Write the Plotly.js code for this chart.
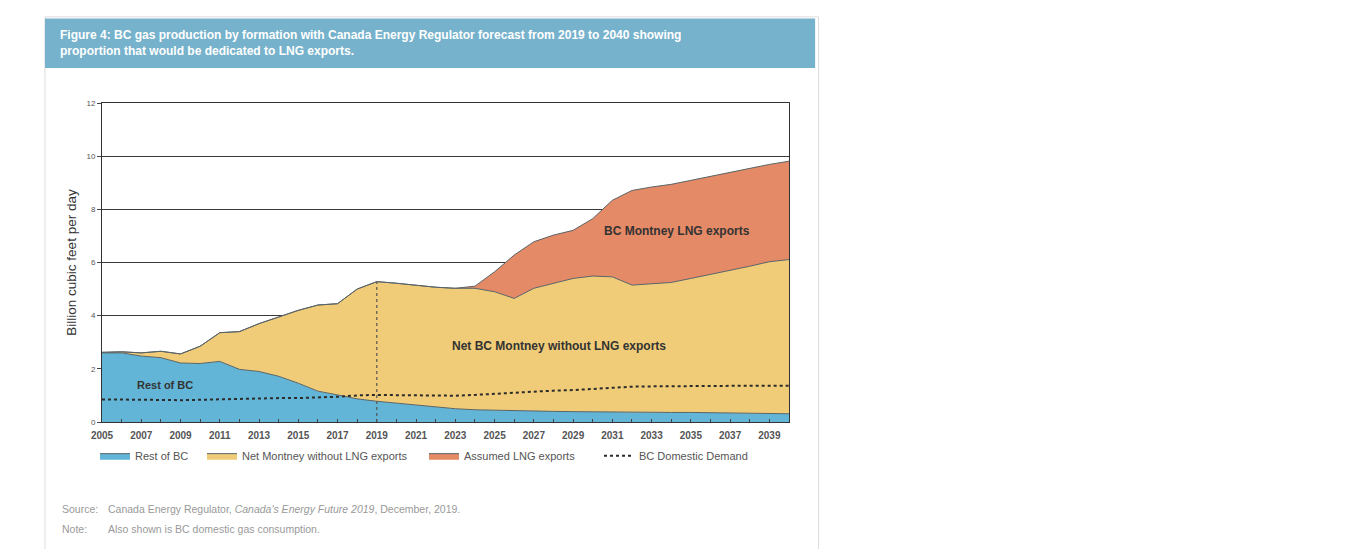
<!DOCTYPE html>
<html>
<head>
<meta charset="utf-8">
<script src="https://cdn.plot.ly/plotly-3.0.1.min.js"></script>
<style>
html,body{margin:0;padding:0;background:#fff;}
#chart{width:1369px;height:549px;}
</style>
</head>
<body>
<div id="chart"></div>
<script>
// ---- data (billion cubic feet per day) ----
const years = [2005,2006,2007,2008,2009,2010,2011,2012,2013,2014,2015,2016,2017,2018,2019,2020,2021,2022,2023,2024,2025,2026,2027,2028,2029,2030,2031,2032,2033,2034,2035,2036,2037,2038,2039,2040];
const restOfBC = [2.60,2.60,2.48,2.42,2.22,2.20,2.28,1.98,1.90,1.72,1.46,1.16,1.02,0.87,0.78,0.71,0.63,0.56,0.50,0.46,0.44,0.42,0.41,0.40,0.39,0.38,0.38,0.37,0.37,0.36,0.36,0.35,0.34,0.33,0.32,0.31];
const netMontney = [0.02,0.04,0.12,0.24,0.34,0.65,1.08,1.42,1.80,2.23,2.74,3.24,3.43,4.13,4.50,4.51,4.52,4.51,4.53,4.57,4.46,4.23,4.62,4.81,5.01,5.11,5.08,4.78,4.82,4.89,5.04,5.20,5.37,5.53,5.71,5.80];
const lngExports = [0,0,0,0,0,0,0,0,0,0,0,0,0,0,0,0,0,0,0,0.08,0.75,1.63,1.75,1.82,1.81,2.16,2.88,3.56,3.65,3.69,3.69,3.69,3.69,3.69,3.66,3.70];
const domesticDemand = [0.85,0.85,0.84,0.83,0.82,0.84,0.86,0.88,0.90,0.90,0.90,0.92,0.95,1.00,1.02,1.01,1.00,0.99,0.99,1.02,1.06,1.10,1.15,1.18,1.20,1.25,1.30,1.33,1.34,1.35,1.35,1.36,1.36,1.36,1.36,1.36];
const seriesNames = ["Rest of BC","Net Montney without LNG exports","Assumed LNG exports","BC Domestic Demand"];
const forecastStart = 2019;

const edge = '#5a6468';
const traces = [
  {x:years, y:restOfBC, name:seriesNames[0], type:'scatter', mode:'lines', stackgroup:'one',
   fillcolor:'#62b5d6', line:{color:edge,width:1}, legendwidth:62},
  {x:years, y:netMontney, name:seriesNames[1], type:'scatter', mode:'lines', stackgroup:'one',
   fillcolor:'#f0cc78', line:{color:edge,width:1}, legendwidth:177},
  {x:years, y:lngExports, name:seriesNames[2], type:'scatter', mode:'lines', stackgroup:'one',
   fillcolor:'#e48a66', line:{color:edge,width:1}, legendwidth:130},
  {x:years, y:domesticDemand, name:seriesNames[3], type:'scatter', mode:'lines',
   line:{color:'#2b2b2b',width:2,dash:'dot'}, legendwidth:120}
];

const fi = years.indexOf(forecastStart);
const topAtForecast = restOfBC[fi] + netMontney[fi] + lngExports[fi];

const layout = {
  width:1369, height:549,
  paper_bgcolor:'#ffffff', plot_bgcolor:'#ffffff',
  margin:{l:102, r:580, t:103, b:127},
  font:{family:'Liberation Sans, Arial, sans-serif', color:'#555'},
  title:{
    text:'Figure 4: BC gas production by formation with Canada Energy Regulator forecast from 2019 to 2040 showing<br>proportion that would be dedicated to LNG exports.',
    font:{size:12, color:'#ffffff', family:'Liberation Sans, Arial, sans-serif', weight:'bold'},
    x:0, xref:'paper', xanchor:'left', y:0.929, yanchor:'top', yref:'container',
    pad:{l:-42}
  },
  xaxis:{
    range:[2005,2040], tick0:2005, dtick:2, ticks:'inside', ticklen:3, tickcolor:'#444',
    showline:true, linecolor:'#333', linewidth:1, mirror:true, showgrid:false, zeroline:false,
    tickfont:{size:10, color:'#555', weight:'bold'}, ticklabelstandoff:4,
    minor:{dtick:1, ticks:'inside', ticklen:3, tickcolor:'#444'}
  },
  yaxis:{
    range:[0,12], dtick:2, ticks:'outside', ticklen:4, tickcolor:'#444',
    showline:true, linecolor:'#333', linewidth:1, mirror:true,
    showgrid:true, gridcolor:'#3a3a3a', gridwidth:1, zeroline:false,
    tickfont:{size:8, color:'#555'},
    title:{text:'Billion cubic feet per day', font:{size:13.5, color:'#333'}, standoff:6}
  },
  showlegend:true,
  legend:{orientation:'h', x:-0.0102, xanchor:'left', y:-0.06, yanchor:'top',
    font:{size:11, color:'#555'}, traceorder:'normal', itemwidth:30, bgcolor:'rgba(0,0,0,0)'},
  shapes:[
    {type:'rect', xref:'paper', yref:'paper', x0:-0.083, x1:1.043, y0:-0.40, y1:1.27,
     line:{color:'#dddddd', width:1}, fillcolor:'rgba(0,0,0,0)', layer:'below'},
    {type:'rect', xref:'paper', yref:'paper', x0:-0.083, x1:1.038, y0:1.11, y1:1.265,
     line:{width:0}, fillcolor:'#76b2cc', layer:'below'},
    {type:'line', xref:'x', yref:'y', x0:forecastStart, x1:forecastStart, y0:0, y1:topAtForecast,
     line:{color:'#555', width:1.2, dash:'dot'}}
  ],
  annotations:[
    {x:2008.2, y:1.4, xref:'x', yref:'y', text:'Rest of BC', showarrow:false,
     font:{size:11, color:'#333', weight:'bold'}},
    {x:2028.3, y:2.85, xref:'x', yref:'y', text:'Net BC Montney without LNG exports', showarrow:false,
     font:{size:12, color:'#333', weight:'bold'}},
    {x:2034.3, y:7.2, xref:'x', yref:'y', text:'BC Montney LNG exports', showarrow:false,
     font:{size:12, color:'#333', weight:'bold'}},
    {xref:'paper', yref:'paper', x:-0.061, y:-0.273, xanchor:'left', yanchor:'middle', showarrow:false, align:'left',
     text:'Source:', font:{size:10.5, color:'#999'}},
    {xref:'paper', yref:'paper', x:0.006, y:-0.273, xanchor:'left', yanchor:'middle', showarrow:false, align:'left',
     text:'Canada Energy Regulator, <i>Canada\'s Energy Future 2019</i>, December, 2019.',
     font:{size:10.5, color:'#999'}},
    {xref:'paper', yref:'paper', x:-0.061, y:-0.335, xanchor:'left', yanchor:'middle', showarrow:false, align:'left',
     text:'Note:', font:{size:10.5, color:'#999'}},
    {xref:'paper', yref:'paper', x:0.006, y:-0.335, xanchor:'left', yanchor:'middle', showarrow:false, align:'left',
     text:'Also shown is BC domestic gas consumption.', font:{size:10.5, color:'#999'}}
  ]
};

Plotly.newPlot('chart', traces, layout, {displayModeBar:false, staticPlot:true});
</script>
</body>
</html>
